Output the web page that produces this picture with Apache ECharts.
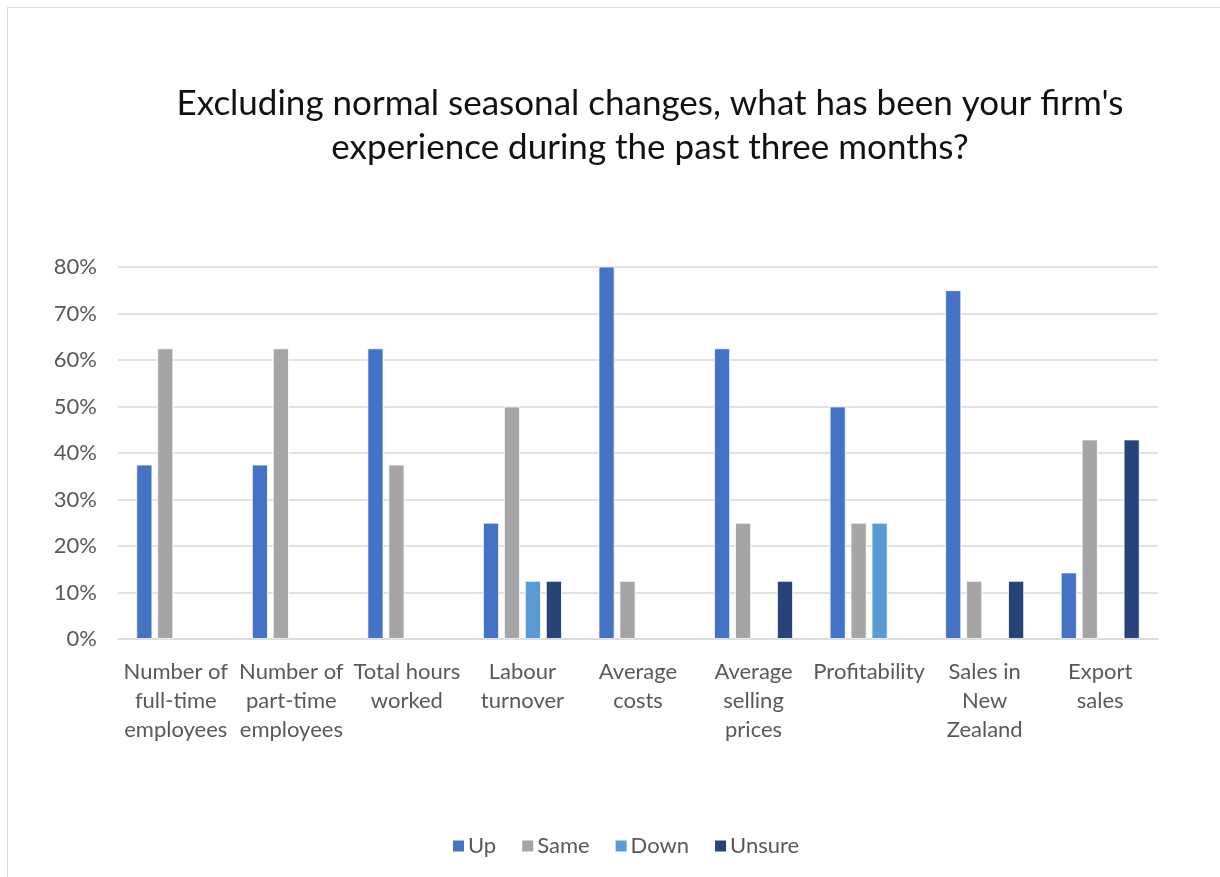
<!DOCTYPE html>
<html><head><meta charset="utf-8">
<script src="https://cdn.jsdelivr.net/npm/echarts@6/dist/echarts.min.js"></script>
<style>
html,body{margin:0;padding:0;background:#fff;}
#frame{position:absolute;left:7px;top:7px;width:1230px;height:890px;border:1.5px solid #d9d9d9;box-sizing:border-box;}
#chart{position:absolute;left:0;top:0;width:1220px;height:877px;}
</style></head>
<body><div id="frame"></div><div id="chart"></div>
<script>
const categories = ["Number of\nfull-time\nemployees","Number of\npart-time\nemployees","Total hours\nworked","Labour\nturnover","Average\ncosts","Average\nselling\nprices","Profitability","Sales in\nNew\nZealand","Export\nsales"];
const up = [37.5, 37.5, 62.5, 25, 87.5, 62.5, 50, 75, 14.3];
const same = [62.5, 62.5, 37.5, 50, 12.5, 25, 25, 12.5, 42.9];
const down = [0, 0, 0, 12.5, 0, 0, 25, 0, 0];
const unsure = [0, 0, 0, 12.5, 0, 12.5, 0, 12.5, 42.9];
const yTicks = [0,10,20,30,40,50,60,70,80];
const FONT = 'Lato';
const chart = echarts.init(document.getElementById('chart'), null, {renderer:'canvas'});
function mk(name, data, color){
  return {name, type:'bar', data: data.map(v => v === 0 ? null : v), barWidth:16, barGap:'31%', clip:true,
    itemStyle:{color, borderColor:'#ffffff', borderWidth:0.8}};
}
chart.setOption({
  animation:false,
  title:{text:"Excluding normal seasonal changes, what has been your firm's\nexperience during the past three months?",
    left:645, top:77, textAlign:'center',
    textStyle:{fontFamily:FONT, fontSize:35, fontWeight:'normal', color:'#111111', lineHeight:44}},
  legend:{bottom:15, left:446, itemWidth:13, itemHeight:13, itemGap:24, icon:'rect',
    textStyle:{fontFamily:FONT, fontSize:22, color:'#595959', padding:[0,0,0,-2]},
    data:['Up','Same','Down','Unsure']},
  grid:{left:118, right:62, top:267, bottom:238, containLabel:false},
  xAxis:{type:'category', data:categories,
    axisLine:{lineStyle:{color:'#d9d9d9', width:1.5}}, axisTick:{show:false},
    axisLabel:{interval:0, fontFamily:FONT, fontSize:22, color:'#595959', lineHeight:29, margin:18}},
  yAxis:{type:'value', min:0, max:80, interval:10,
    axisLabel:{formatter: v => yTicks.includes(v) ? v + '%' : '', fontFamily:FONT, fontSize:22, color:'#595959', margin:21},
    axisLine:{show:false}, axisTick:{show:false},
    splitLine:{lineStyle:{color:'#d9d9d9', width:1.5}}},
  series:[mk('Up', up, '#4472c4'), mk('Same', same, '#a5a5a5'), mk('Down', down, '#5b9bd5'), mk('Unsure', unsure, '#264478')]
});
</script></body></html>
